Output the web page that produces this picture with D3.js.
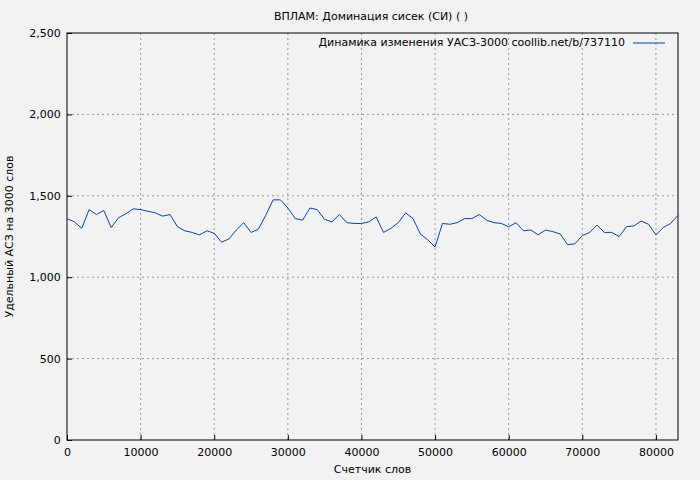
<!DOCTYPE html>
<html>
<head>
<meta charset="UTF-8">
<script src="https://d3js.org/d3.v7.min.js"></script>
<style>
  body { margin: 0; background: #f2f2f2; }
  text { font-family: "DejaVu Sans", sans-serif; font-size: 11px; fill: #000; }
</style>
</head>
<body>
<div id="chart"></div>
<script>
// words counted, step 1000
var words = d3.range(0, 84000, 1000);
var values = [1360,1340,1300,1415,1385,1410,1305,1365,1390,1420,1415,1405,1395,1375,1385,1310,1285,1275,1260,1285,
  1270,1215,1235,1290,1335,1275,1295,1380,1475,1475,1425,1360,1350,1425,1415,1355,1340,1385,1335,1330,
  1330,1340,1370,1275,1300,1335,1395,1360,1265,1230,1185,1330,1325,1335,1360,1360,1385,1350,1335,1330,
  1310,1335,1285,1290,1260,1290,1280,1265,1200,1205,1255,1275,1320,1275,1275,1250,1310,1315,1345,1325,
  1260,1305,1330,1380];
var xTicks = [0, 10000, 20000, 30000, 40000, 50000, 60000, 70000, 80000];
var yTicks = [0, 500, 1000, 1500, 2000, 2500];

var W = 700, H = 480;
var margin = { top: 33, right: 22, bottom: 40, left: 67 };

var svg = d3.select("#chart").append("svg").attr("width", W).attr("height", H);
svg.append("rect").attr("width", W).attr("height", H).attr("fill", "#f2f2f2");

var x = d3.scaleLinear().domain([0, 83000]).range([margin.left, W - margin.right]);
var y = d3.scaleLinear().domain([0, 2500]).range([H - margin.bottom, margin.top]);

// grid
svg.append("g").selectAll("line").data(xTicks.slice(1)).enter().append("line")
  .attr("x1", d => x(d)).attr("x2", d => x(d))
  .attr("y1", y(0)).attr("y2", y(2500))
  .attr("stroke", "#999").attr("stroke-dasharray", "2,3");
svg.append("g").selectAll("line").data(yTicks.slice(1, -1)).enter().append("line")
  .attr("x1", x(0)).attr("x2", x(83000))
  .attr("y1", d => y(d)).attr("y2", d => y(d))
  .attr("stroke", "#999").attr("stroke-dasharray", "2,3");

// axes
var xAxis = svg.append("g").attr("transform", "translate(0," + y(0) + ")")
  .call(d3.axisBottom(x).tickValues(xTicks).tickFormat(d3.format("d")).tickSizeInner(-5).tickSizeOuter(0));
var yAxis = svg.append("g").attr("transform", "translate(" + x(0) + ",0)")
  .call(d3.axisLeft(y).tickValues(yTicks).tickSizeInner(-5).tickSizeOuter(0));
[xAxis, yAxis].forEach(function (a) {
  a.select(".domain").remove();
  a.selectAll("text").style("font-family", "DejaVu Sans, sans-serif").style("font-size", "11px");
});
xAxis.selectAll("text").attr("dy", "1.2em");
yAxis.selectAll("text").attr("dx", "-0.3em");

// frame
svg.append("rect").attr("x", x(0)).attr("y", y(2500))
  .attr("width", x(83000) - x(0)).attr("height", y(0) - y(2500))
  .attr("fill", "none").attr("stroke", "#000");

// line
svg.append("path").datum(words)
  .attr("fill", "none").attr("stroke", "#0047b3").attr("stroke-width", 1)
  .attr("d", d3.line().x(d => x(d)).y((d, i) => y(values[i])));

// titles
svg.append("text").attr("x", 371).attr("y", 20).attr("text-anchor", "middle")
  .text("ВПЛАМ: Доминация сисек (СИ) ( )");
svg.append("text").attr("x", (x(0) + x(83000)) / 2).attr("y", 473).attr("text-anchor", "middle")
  .text("Счетчик слов");
svg.append("text").attr("transform", "translate(13," + ((y(0) + y(2500)) / 2) + ") rotate(-90)")
  .attr("text-anchor", "middle").text("Удельный АСЗ на 3000 слов");

// legend
svg.append("text").attr("x", 625).attr("y", 46).attr("text-anchor", "end")
  .text("Динамика изменения УАСЗ-3000 coollib.net/b/737110");
svg.append("line").attr("x1", 633).attr("x2", 665).attr("y1", 43).attr("y2", 43)
  .attr("stroke", "#0047b3");
</script>
</body>
</html>
